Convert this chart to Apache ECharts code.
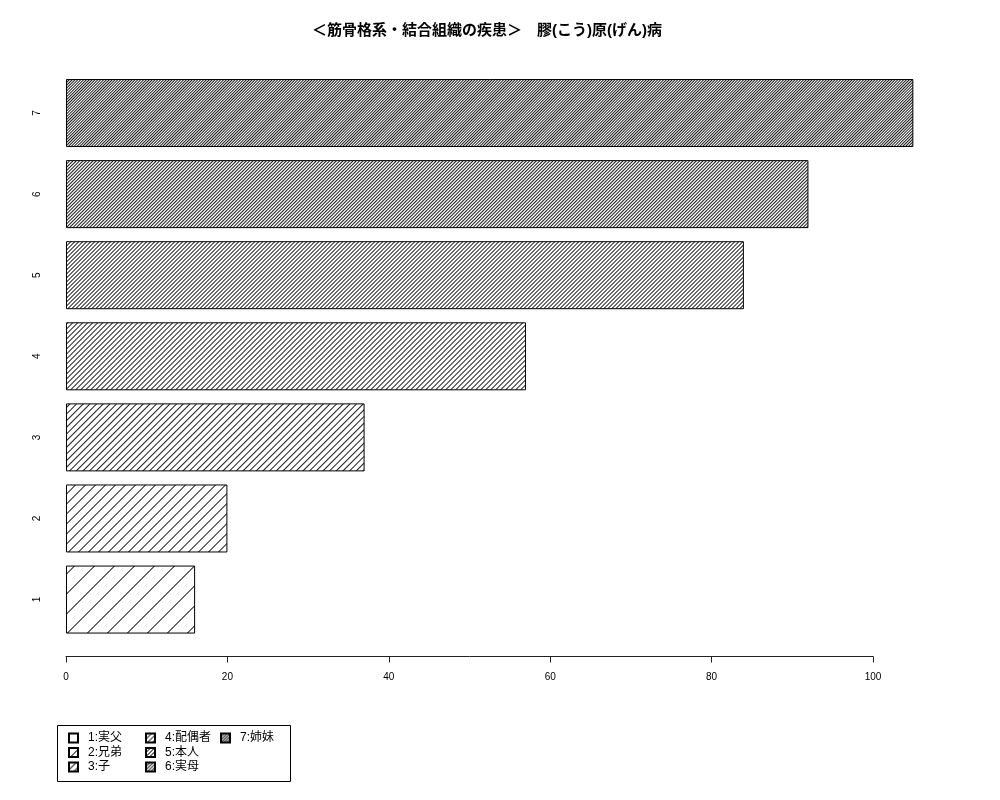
<!DOCTYPE html>
<html>
<head>
<meta charset="utf-8">
<script src="https://cdn.jsdelivr.net/npm/echarts@6/dist/echarts.min.js"></script>
<style>html,body{margin:0;padding:0;background:#fff;}#chart{width:1000px;height:800px;}</style>
</head>
<body>
<div id="chart"></div>
<script>
// ---- data ----
var categories = ['1', '2', '3', '4', '5', '6', '7'];
var values = [16, 20, 37, 57, 84, 92, 105];
var seriesNames = ['1:実父', '2:兄弟', '3:子', '4:配偶者', '5:本人', '6:実母', '7:姉妹'];
var titleText = '＜筋骨格系・結合組織の疾患＞　膠(こう)原(げん)病';

// ---- styles ----
var hatchLinesPerTile = [3, 6, 9, 12, 15, 18, 21];
var FONT = '"Liberation Sans", "Noto Sans CJK JP", sans-serif';

function makeHatch(k) {
  var N = 60, A = Math.SQRT2, INK = 0.9;
  var c = document.createElement('canvas');
  c.width = N; c.height = N;
  var ctx = c.getContext('2d');
  var img = ctx.createImageData(N, N);
  var sp = N / k;
  for (var y = 0; y < N; y++) {
    for (var x = 0; x < N; x++) {
      var s = (x + y + 1) % N;
      var dark = 0;
      for (var j = 0; j < k; j++) {
        var cpos = j * sp + 0.5;
        for (var m = -1; m <= 1; m++) {
          var d = Math.abs(s - (cpos + m * N));
          if (d < A) dark += 1 - d / A;
        }
      }
      if (dark > 1) dark = 1;
      var v = Math.round(255 * (1 - INK * dark));
      var p = (y * N + x) * 4;
      img.data[p] = v; img.data[p + 1] = v; img.data[p + 2] = v; img.data[p + 3] = 255;
    }
  }
  ctx.putImageData(img, 0, 0);
  return c;
}

var series = seriesNames.map(function (name, i) {
  var d = categories.map(function (_, j) { return j === i ? values[j] : null; });
  return {
    name: name,
    type: 'bar',
    stack: 'all',
    xAxisIndex: 0,
    yAxisIndex: 0,
    barWidth: 68,
    data: d,
    silent: true,
    itemStyle: {
      color: { image: makeHatch(hatchLinesPerTile[i]), repeat: 'repeat' },
      borderColor: '#000',
      borderWidth: 1
    }
  };
});

function legendCol(names, left) {
  return {
    orient: 'vertical',
    left: left,
    top: 732,
    data: names,
    icon: 'rect',
    itemWidth: 9,
    itemHeight: 9,
    itemGap: 2.5,
    selectedMode: false,
    textStyle: { fontFamily: FONT, fontSize: 12, color: '#000', lineHeight: 12, padding: [0, 0, 0, 5] },
    padding: 0
  };
}

var chart = echarts.init(document.getElementById('chart'), null, { renderer: 'canvas' });
chart.setOption({
  backgroundColor: '#fff',
  animation: false,
  title: {
    text: titleText,
    left: 307,
    top: 18,
    textStyle: { fontFamily: FONT, fontSize: 15, fontWeight: 'bold', color: '#000' }
  },
  grid: [
    { left: 66, top: 72.5, width: 847.35, height: 567.6 },
    { left: 66, top: 640, width: 807, height: 16.5 }
  ],
  xAxis: [
    { gridIndex: 0, type: 'value', min: 0, max: 105, show: false },
    {
      gridIndex: 1, type: 'value', min: 0, max: 100, interval: 20, position: 'bottom',
      axisLine: { show: true, lineStyle: { color: '#222', width: 1 } },
      axisTick: { show: true, length: 6, lineStyle: { color: '#222' } },
      splitLine: { show: false },
      axisLabel: { fontFamily: FONT, fontSize: 10, color: '#000', margin: 16 }
    }
  ],
  yAxis: [
    {
      gridIndex: 0, type: 'category', data: categories,
      axisLine: { show: false }, axisTick: { show: false }, splitLine: { show: false },
      axisLabel: { rotate: 90, fontFamily: FONT, fontSize: 10, color: '#000', margin: 24 }
    },
    { gridIndex: 1, type: 'value', show: false }
  ],
  legend: [
    legendCol(seriesNames.slice(0, 3), 68),
    legendCol(seriesNames.slice(3, 6), 145),
    legendCol(seriesNames.slice(6, 7), 220)
  ],
  graphic: [{
    type: 'rect',
    shape: { x: 57.5, y: 725.5, width: 233, height: 56 },
    style: { fill: 'none', stroke: '#000', lineWidth: 1 },
    silent: true
  }],
  series: series
});
</script>
</body>
</html>
